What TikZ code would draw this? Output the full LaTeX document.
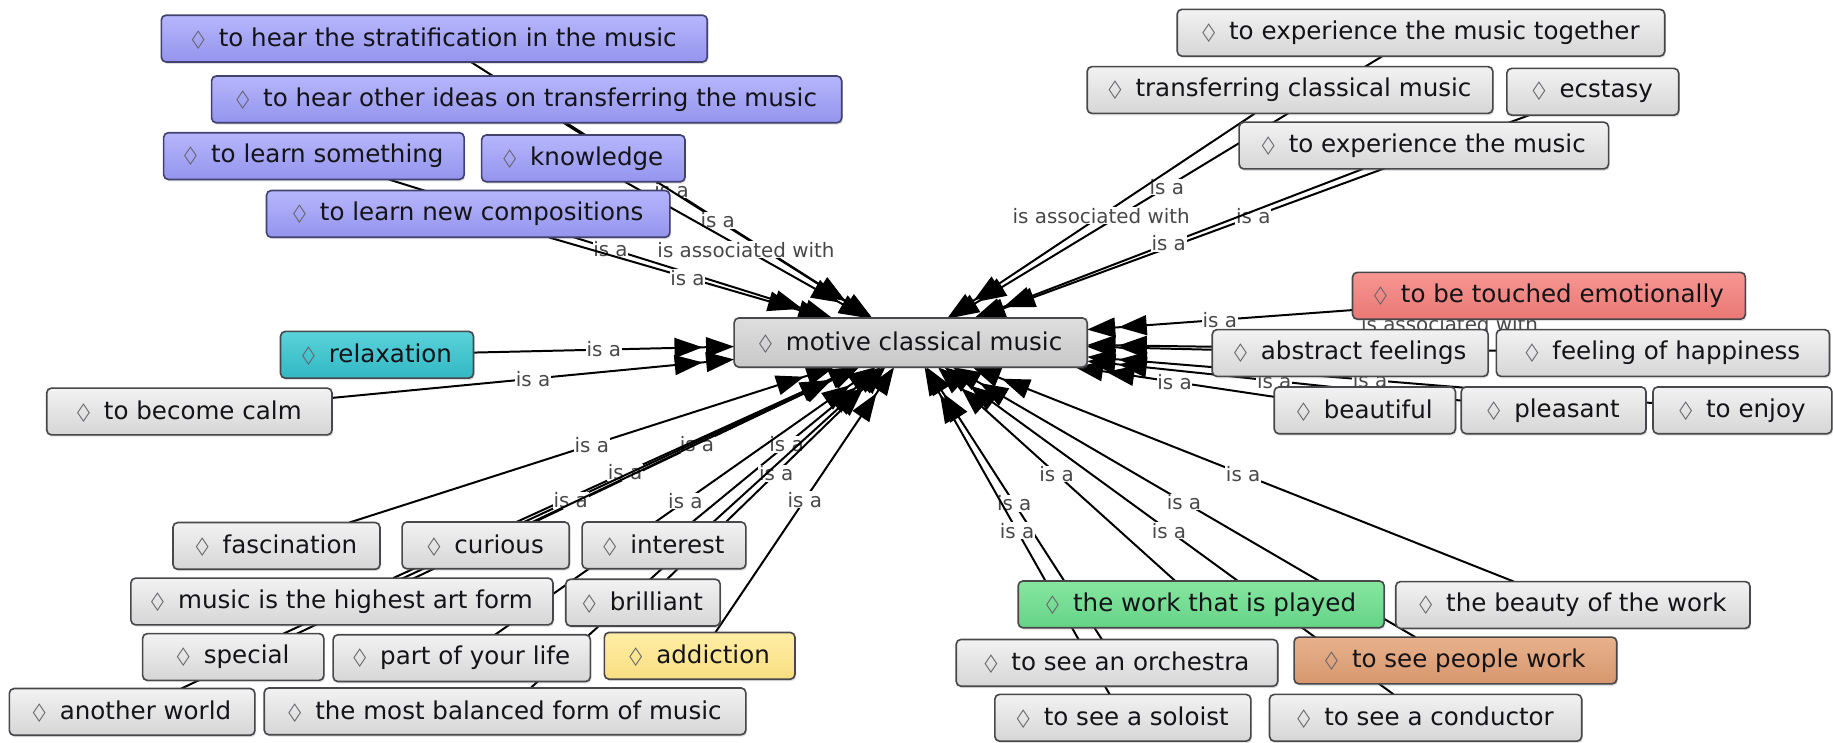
\documentclass[tikz,border=0pt]{standalone}
\usepackage{fontspec}
\setmainfont{DejaVu Sans}
\usetikzlibrary{arrows.meta,backgrounds,shadows}

\definecolor{bordc}{RGB}{72,72,76}
\definecolor{txtc}{RGB}{20,20,24}
\definecolor{lozc}{RGB}{100,100,106}
\definecolor{lblc}{RGB}{72,72,72}
\definecolor{gtop}{RGB}{242,242,242}
\definecolor{gbot}{RGB}{214,214,214}
\definecolor{ctop}{RGB}{222,222,222}
\definecolor{cbot}{RGB}{200,200,200}
\definecolor{btop}{RGB}{182,182,252}
\definecolor{bbot}{RGB}{148,148,238}
\definecolor{bbord}{RGB}{66,66,112}
\definecolor{tealtop}{RGB}{90,210,218}
\definecolor{tealbot}{RGB}{50,184,196}
\definecolor{redtop}{RGB}{246,150,146}
\definecolor{redbot}{RGB}{234,120,116}
\definecolor{yeltop}{RGB}{255,238,165}
\definecolor{yelbot}{RGB}{248,222,130}
\definecolor{grntop}{RGB}{135,230,160}
\definecolor{grnbot}{RGB}{100,212,135}
\definecolor{orgtop}{RGB}{232,178,140}
\definecolor{orgbot}{RGB}{214,150,110}

% outlined diamond in front of every concept
\newcommand{\lozmark}{{\color{lozc}\scalebox{0.68}[1]{◇}}\hspace{12pt}}

\begin{document}
\begin{tikzpicture}[x=1pt,y=-1pt,
  box/.style={draw=bordc, line width=1.4pt, rounded corners=4pt,
    minimum height=40pt, inner xsep=8pt, inner ysep=2pt, outer sep=0pt,
    text=txtc, font=\fontsize{21}{24}\selectfont,
    drop shadow={shadow xshift=1pt, shadow yshift=-1.6pt, opacity=0.25}},
  greybox/.style={box, top color=gtop, bottom color=gbot},
  corebox/.style={box, top color=ctop, bottom color=cbot, minimum height=42pt},
  bluebox/.style={box, draw=bbord, top color=btop, bottom color=bbot},
  tealbox/.style={box, top color=tealtop, bottom color=tealbot},
  redbox/.style={box, top color=redtop, bottom color=redbot},
  yelbox/.style={box, top color=yeltop, bottom color=yelbot},
  grnbox/.style={box, top color=grntop, bottom color=grnbot},
  orgbox/.style={box, top color=orgtop, bottom color=orgbot},
  rel/.style={line width=1.7pt, draw=black,
    -{Triangle[length=24pt,width=17pt,sep=3pt]Triangle[length=24pt,width=17pt]}},
  plainrel/.style={line width=1.7pt, draw=black},
  lbl/.style={fill=white, inner sep=0.6pt, text=lblc,
    font=\fontsize{17}{19}\selectfont, midway}
]
\useasboundingbox (0,0) rectangle (1568,635);

% central concept
\node[corebox, minimum width=302pt] (core) at (779,293) {\lozmark motive classical music};

% upper left cluster
\node[bluebox, minimum width=467pt] (strat) at (371.5,33) {\lozmark to hear the stratification in the music};
\node[bluebox, minimum width=539pt] (ideas) at (450.5,85) {\lozmark to hear other ideas on transferring the music};
\node[bluebox, minimum width=257pt] (learnsth) at (268.5,133.5) {\lozmark to learn something};
\node[bluebox, minimum width=174pt] (knowledge) at (499,135.5) {\lozmark knowledge};
\node[bluebox, minimum width=345pt] (learnnew) at (400.5,183) {\lozmark to learn new compositions};

% upper right cluster
\node[greybox, minimum width=417pt] (exptog) at (1215.5,28) {\lozmark to experience the music together};
\node[greybox, minimum width=347pt] (transf) at (1103.5,77) {\lozmark transferring classical music};
\node[greybox, minimum width=147pt] (ecstasy) at (1362.5,78.5) {\lozmark ecstasy};
\node[greybox, minimum width=316pt] (expmusic) at (1218,124.5) {\lozmark to experience the music};

% right cluster
\node[redbox, minimum width=336pt] (touched) at (1325,253) {\lozmark to be touched emotionally};
\node[greybox, minimum width=236pt] (abstract) at (1155,302) {\lozmark abstract feelings};
\node[greybox, minimum width=285pt] (happiness) at (1422.5,302) {\lozmark feeling of happiness};
\node[greybox, minimum width=155pt] (beautiful) at (1167.5,351) {\lozmark beautiful};
\node[greybox, minimum width=158pt] (pleasant) at (1329,351) {\lozmark pleasant};
\node[greybox, minimum width=153pt] (enjoy) at (1490.5,351) {\lozmark to enjoy};

% left
\node[tealbox, minimum width=165pt] (relax) at (322.5,303.5) {\lozmark relaxation};
\node[greybox, minimum width=244pt] (calm) at (162,352) {\lozmark to become calm};

% lower left cluster
\node[greybox, minimum width=177pt] (fasc) at (236.5,467) {\lozmark fascination};
\node[greybox, minimum width=143pt] (curious) at (415.5,466.5) {\lozmark curious};
\node[greybox, minimum width=140pt] (interest) at (568,466.5) {\lozmark interest};
\node[greybox, minimum width=361pt] (highest) at (292.5,514.5) {\lozmark music is the highest art form};
\node[greybox, minimum width=132pt] (brilliant) at (550,515.5) {\lozmark brilliant};
\node[greybox, minimum width=155pt] (special) at (199.5,562) {\lozmark special};
\node[greybox, minimum width=220pt] (partlife) at (395,563) {\lozmark part of your life};
\node[yelbox, minimum width=163pt] (addiction) at (598.5,561) {\lozmark addiction};
\node[greybox, minimum width=210pt] (another) at (113,609) {\lozmark another world};
\node[greybox, minimum width=412pt] (balanced) at (432,608.5) {\lozmark the most balanced form of music};

% lower right cluster
\node[grnbox, minimum width=313pt] (work) at (1027.5,517) {\lozmark the work that is played};
\node[greybox, minimum width=303pt] (beauty) at (1345.5,517.5) {\lozmark the beauty of the work};
\node[greybox, minimum width=275pt] (orchestra) at (955.5,567) {\lozmark to see an orchestra};
\node[orgbox, minimum width=276pt] (people) at (1245,565) {\lozmark to see people work};
\node[greybox, minimum width=219pt] (soloist) at (960.5,614) {\lozmark to see a soloist};
\node[greybox, minimum width=267pt] (conductor) at (1219.5,614) {\lozmark to see a conductor};

% relations, drawn beneath the boxes
\begin{pgfonlayer}{background}
\fill[white] (0,0) rectangle (1568,635);

\draw[rel] (strat) -- node[lbl]{is a} (core);
\draw[rel] (ideas) -- node[lbl]{is a} (core);
\draw[rel] (learnsth) -- node[lbl]{is a} (core);
\draw[rel] (knowledge) -- node[lbl]{is associated with} (core);
\draw[rel] (learnnew) -- node[lbl]{is a} (core);

\draw[rel] (exptog) -- node[lbl]{is a} (core);
\draw[rel] (transf) -- node[lbl]{is associated with} (core);
\draw[rel] (ecstasy) -- node[lbl]{is a} (core);
\draw[rel] (expmusic) -- node[lbl]{is a} (core);

\draw[rel] (touched) -- node[lbl]{is a} (core);
\draw[plainrel] (abstract) -- node[lbl]{is associated with} (touched);
\draw[rel] (abstract) -- (core);
\draw[rel] (happiness) -- (core);
\draw[rel] (beautiful) -- node[lbl]{is a} (core);
\draw[rel] (pleasant) -- node[lbl]{is a} (core);
\draw[rel] (enjoy) -- node[lbl]{is a} (core);

\draw[rel] (relax) -- node[lbl]{is a} (core);
\draw[rel] (calm) -- node[lbl]{is a} (core);

\draw[rel] (fasc) -- node[lbl]{is a} (core);
\draw[rel] (curious) -- node[lbl]{is a} (core);
\draw[rel] (interest) -- node[lbl]{is a} (core);
\draw[rel] (highest) -- node[lbl]{is a} (core);
\draw[rel] (brilliant) -- node[lbl]{is a} (core);
\draw[rel] (special) -- node[lbl]{is a} (core);
\draw[rel] (partlife) -- node[lbl]{is a} (core);
\draw[rel] (addiction) -- node[lbl]{is a} (core);
\draw[rel] (another) -- (core);
\draw[rel] (balanced) -- (core);

\draw[rel] (work) -- node[lbl]{is a} (core);
\draw[rel] (beauty) -- node[lbl]{is a} (core);
\draw[rel] (orchestra) -- node[lbl]{is a} (core);
\draw[rel] (people) -- node[lbl]{is a} (core);
\draw[rel] (soloist) -- node[lbl]{is a} (core);
\draw[rel] (conductor) -- node[lbl]{is a} (core);
\end{pgfonlayer}
\end{tikzpicture}
\end{document}
